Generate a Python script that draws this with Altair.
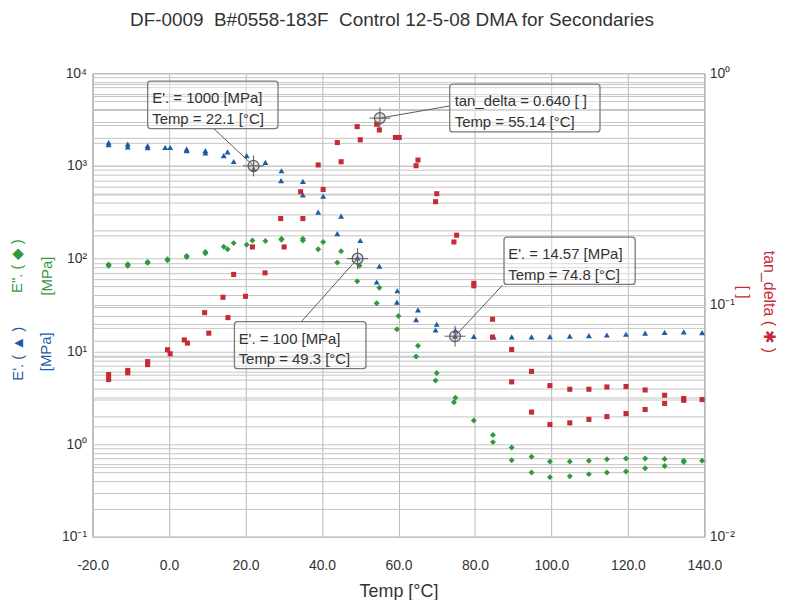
import math
import pandas as pd
import altair as alt

# ---------------- data ----------------
# E' (storage modulus, MPa) - blue triangles, left axis
ep_T = [-15.8, -15.8, -10.8, -10.8, -5.6, -5.6, -1.0, 0.3, 4.6, 4.6, 9.5, 9.5,
        14.3, 15.3, 16.9, 20.3, 22.1, 25.2, 29.3, 29.4, 35.0, 35.0, 39.0, 40.3,
        44.0, 45.0, 49.3, 50.0, 54.3, 55.0, 59.6, 59.7, 64.6, 65.1, 69.7, 70.0,
        74.8, 74.9, 79.7, 84.9, 89.6, 94.8, 99.6, 104.8, 109.8, 114.5, 119.5,
        124.5, 129.6, 134.6, 139.4]
ep_V = [1786, 1690, 1718, 1607, 1650, 1570, 1580, 1580, 1520, 1460, 1460, 1380,
        1290, 1420, 1117, 1290, 930, 1090, 693, 887, 680, 488, 317, 471,
        186, 287, 102, 157, 56, 83, 34, 45, 22, 28, 17, 19.6,
        14.6, 16.7, 14.5, 14.3, 14.3, 14.3, 14.4, 14.6, 14.8, 15.0, 15.3,
        15.7, 16.0, 16.2, 15.9]

# E'' (loss modulus, MPa) - green diamonds, left axis
ed_T = [-15.8, -15.8, -10.8, -10.8, -5.6, -5.6, -0.4, -0.4, 4.6, 4.6, 9.5, 9.5,
        14.3, 15.3, 16.9, 20.3, 21.8, 25.2, 29.4, 29.4, 35.0, 35.0, 39.0, 40.3,
        44.0, 45.0, 49.2, 49.8, 54.3, 55.0, 59.6, 60.0, 64.6, 65.1, 69.7, 70.0,
        74.5, 74.9, 79.7, 84.7, 84.7, 89.6, 89.6, 94.8, 94.8, 99.6, 99.6,
        104.8, 104.8, 109.8, 109.8, 114.5, 114.5, 119.5, 119.5, 124.5, 124.5,
        129.6, 129.6, 134.6, 134.6, 139.4]
ed_V = [86.5, 84, 87, 84, 92, 90, 98.6, 96, 107, 104, 118, 114,
        134, 126, 147, 141, 157, 155, 164, 160, 164, 157, 126, 151,
        91, 120, 57, 84, 33, 48.5, 17.3, 24, 8.8, 11.5, 4.84, 5.85,
        2.83, 3.16, 1.8, 1.25, 1.05, 0.92, 0.67, 0.73, 0.494, 0.65, 0.44,
        0.65, 0.45, 0.66, 0.474, 0.687, 0.494, 0.70, 0.506, 0.70, 0.55,
        0.69, 0.58, 0.66, 0.64, 0.66]

# tan_delta - red, right axis
td_T = [-15.8, -15.8, -10.8, -10.8, -5.6, -5.6, -0.4, 0.3, 4.0, 4.8, 9.3, 10.4,
        14.1, 15.4, 16.9, 20.0, 21.8, 25.1, 29.2, 30.1, 34.4, 35.0, 39.0, 40.3,
        44.0, 45.0, 49.2, 50.0, 54.3, 55.0, 59.2, 60.2, 64.6, 65.1, 69.7, 70.0,
        74.5, 75.2, 79.7, 79.7, 84.6, 84.6, 89.6, 89.6, 94.8, 94.8, 99.6, 99.6,
        104.8, 104.8, 109.8, 109.8, 114.5, 114.5, 119.5, 119.5, 124.5, 124.5,
        129.6, 129.6, 134.6, 134.6, 139.4]
td_V = [0.0501, 0.0477, 0.0522, 0.051, 0.0553, 0.057, 0.0641, 0.0616, 0.0707, 0.0685,
        0.0927, 0.0756, 0.108, 0.0882, 0.1355, 0.109, 0.178, 0.1376, 0.236, 0.178,
        0.308, 0.236, 0.402, 0.315, 0.502, 0.415, 0.588, 0.516, 0.602, 0.569,
        0.528, 0.528, 0.399, 0.422, 0.279, 0.302, 0.187, 0.20, 0.124, 0.121,
        0.0868, 0.0727, 0.0643, 0.0466, 0.0517, 0.0345, 0.0449, 0.0305,
        0.0433, 0.031, 0.0433, 0.0321, 0.0443, 0.033, 0.0445, 0.034,
        0.043, 0.0354, 0.0408, 0.0376, 0.0395, 0.0388, 0.0391]

# annotated points
mk_T = [22.1, 49.3, 74.8]
mk_V = [1000, 100, 14.57]
tan_mk_T = [55.14]
tan_mk_V = [0.640]

ann_line1 = ["E'. = 1000 [MPa]", "tan_delta = 0.640 [ ]", "E'. = 14.57 [MPa]", "E'. = 100 [MPa]"]
ann_line2 = ["Temp = 22.1 [°C]", "Temp = 55.14 [°C]", "Temp = 74.8 [°C]", "Temp = 49.3 [°C]"]
# annotation boxes (in temperature / left-axis units)
box_T0 = [-5.6, 73.4, 87.6, 17.1]
box_T1 = [28.5, 112.7, 121.9, 51.5]
box_v0 = [8206, 7621, 171, 20.9]
box_v1 = [2526, 2328, 52.7, 6.5]
txt_T = [-4.4, 74.7, 88.7, 18.2]
txt_v1 = [5352, 4970, 111.5, 13.65]
txt_v2 = [3233, 3003, 67.3, 8.25]
lead_T = [11.7, 73.3, 87.2, 34.6]
lead_v = [2526, 4426, 51.8, 20.9]

x_ticks = [-20, 0, 20, 40, 60, 80, 100, 120, 140]

TITLE = "DF-0009\u00a0\u00a0B#0558-183F\u00a0\u00a0Control 12-5-08 DMA for Secondaries"

assert len(ep_T) == len(ep_V) and len(ed_T) == len(ed_V) and len(td_T) == len(td_V)

# ---------------- styling ----------------
FONT = "Liberation Sans"
BLUE = "#1f5aa6"
GREEN = "#2e9a3e"
RED = "#c62a36"
LINE = "#5a5a5a"
GRID = "#c4c4c4"
W, H = 615, 466


# tan_delta target point expressed on the left (modulus) axis for the leader line
def tan_to_left(t):
    return 10 ** (4 + 2.5 * math.log10(t))


ep_df = pd.DataFrame({"T": ep_T, "v": ep_V})
ed_df = pd.DataFrame({"T": ed_T, "v": ed_V})
td_df = pd.DataFrame({"T": td_T, "v": td_V})
mk_df = pd.DataFrame({"T": mk_T, "v": mk_V})
tmk_df = pd.DataFrame({"T": tan_mk_T, "v": tan_mk_V})
box_df = pd.DataFrame({"T": box_T0, "T2": box_T1, "v": box_v0, "v2": box_v1})
end_T = [mk_T[0], tan_mk_T[0], mk_T[2], mk_T[1]]
end_v = [mk_V[0], tan_to_left(tan_mk_V[0]), mk_V[2], mk_V[1]]
lead_df = pd.DataFrame({"T": lead_T, "v": lead_v, "T2": end_T, "v2": end_v})
txt_df = pd.DataFrame({"T": txt_T + txt_T, "v": txt_v1 + txt_v2,
                       "label": ann_line1 + ann_line2})

left_vals = [round(d * 10 ** k, 6) for k in range(-1, 4) for d in range(1, 10)] + [10000]
right_vals = [round(d * 10 ** k, 6) for k in range(-2, 0) for d in range(1, 10)] + [1]

left_expr = ("datum.value == 10000 ? '10⁴' : datum.value == 1000 ? '10³' : "
             "datum.value == 100 ? '10²' : datum.value == 10 ? '10¹' : "
             "datum.value == 1 ? '10⁰' : datum.value == 0.1 ? '10⁻¹' : ''")
right_expr = ("datum.value == 1 ? '10⁰' : datum.value == 0.1 ? '10⁻¹' : "
              "datum.value == 0.01 ? '10⁻²' : ''")

x_scale = alt.Scale(domain=[-20, 140], nice=False, zero=False)
yl_scale = alt.Scale(type="log", domain=[0.1, 10000], nice=False)
yr_scale = alt.Scale(type="log", domain=[0.01, 1], nice=False)

x_axis = alt.Axis(values=x_ticks, format=".1f", labelExpr="replace(datum.label, '\u2212', '-')",
                  title="Temp [°C]", grid=True,
                  gridColor="#b8b8b8", ticks=False, domain=False, labelFlush=False,
                  labelFont=FONT, labelFontSize=14, labelColor="#333", labelPadding=22,
                  titleFont=FONT, titleFontSize=18, titleFontWeight="normal",
                  titleColor="#333", titlePadding=10)
left_axis = alt.Axis(orient="left", values=left_vals, labelExpr=left_expr, grid=True,
                     gridColor=GRID, ticks=False, domain=False, labelOverlap=False,
                     labelFont=FONT, labelFontSize=14, labelColor="#333",
                     labelPadding=6, title=None)
right_axis = alt.Axis(orient="right", values=right_vals, labelExpr=right_expr, grid=True,
                      gridColor=GRID, ticks=False, domain=False, labelOverlap=False,
                      labelFont=FONT, labelFontSize=14, labelColor="#333",
                      labelPadding=5, title=None)

X = alt.X("T:Q", scale=x_scale, axis=x_axis)
YL = alt.Y("v:Q", scale=yl_scale, axis=left_axis)
YR = alt.Y("v:Q", scale=yr_scale, axis=right_axis)

boxes = alt.Chart(box_df).mark_rect(fill="white", fillOpacity=0.35, stroke="#7a7a7a",
                                    strokeWidth=1.3, cornerRadius=3).encode(
    x=X, x2="T2:Q", y=YL, y2="v2:Q")
leads = alt.Chart(lead_df).mark_rule(color=LINE, strokeWidth=1).encode(
    x=X, x2="T2:Q", y=YL, y2="v2:Q")
green = alt.Chart(ed_df).mark_point(shape="diamond", filled=True, size=36, color=GREEN,
                                    opacity=1).encode(x=X, y=YL)
blue = alt.Chart(ep_df).mark_point(shape="triangle-up", filled=True, size=36, color=BLUE,
                                   opacity=1).encode(x=X, y=YL)
circ = alt.Chart(mk_df).mark_point(shape="circle", filled=True, fill="#9a9a9a",
                                   fillOpacity=0.3, stroke=LINE, strokeWidth=1.2,
                                   size=120).encode(x=X, y=YL)
cross = alt.Chart(mk_df).mark_point(shape="M-1,0L1,0M0,-1L0,1", filled=False,
                                    stroke=LINE, strokeWidth=1, size=440,
                                    opacity=1).encode(x=X, y=YL)
texts = alt.Chart(txt_df).mark_text(align="left", baseline="middle", font=FONT,
                                    fontSize=15, color="#333").encode(
    x=X, y=YL, text="label:N")


def label(txt, px, py, color, angle, size):
    return alt.Chart(pd.DataFrame({"t": [txt]})).mark_text(
        angle=angle, fontSize=size, font=FONT, color=color, align="center",
        baseline="middle").encode(text="t:N", x=alt.value(px), y=alt.value(py))


titles = [
    label('E". ( ◆ )', -76, 194, GREEN, 270, 15),
    label("[MPa]", -46, 204, GREEN, 270, 15),
    label("E'. ( ▲ )", -75, 282, BLUE, 270, 15),
    label("[MPa]", -47, 280, BLUE, 270, 15),
    label("tan_delta ( ✱ )", 680, 230, RED, 90, 16),
    label("[ ]", 654, 220, RED, 90, 16),
    alt.Chart(pd.DataFrame({"t": [TITLE]}))
    .mark_text(font=FONT, fontSize=19, color="#333", align="center", baseline="alphabetic")
    .encode(text="t:N", x=alt.value(301), y=alt.value(-47)),
]

left_layer = alt.layer(boxes, leads, green, blue, circ, cross, texts, *titles)

red = alt.Chart(td_df).mark_square(filled=True, size=26, color=RED, opacity=1).encode(x=X, y=YR)
tcirc = alt.Chart(tmk_df).mark_point(shape="circle", filled=True, fill="#9a9a9a",
                                     fillOpacity=0.3, stroke=LINE, strokeWidth=1.2,
                                     size=120).encode(x=X, y=YR)
tcross = alt.Chart(tmk_df).mark_point(shape="M-1,0L1,0M0,-1L0,1", filled=False,
                                      stroke=LINE, strokeWidth=1, size=440,
                                      opacity=1).encode(x=X, y=YR)
right_layer = alt.layer(red, tcirc, tcross)

chart = (
    alt.layer(left_layer, right_layer)
    .resolve_scale(y="independent")
    .properties(width=W, height=H, autosize=alt.AutoSizeParams(type="none"),
                padding={"left": 85, "top": 64, "right": 76, "bottom": 62},
                background="white")
    .configure_view(stroke="#8a8a8a", strokeWidth=1)
)

chart.save("out.html", embed_options={"renderer": "svg", "actions": False})
